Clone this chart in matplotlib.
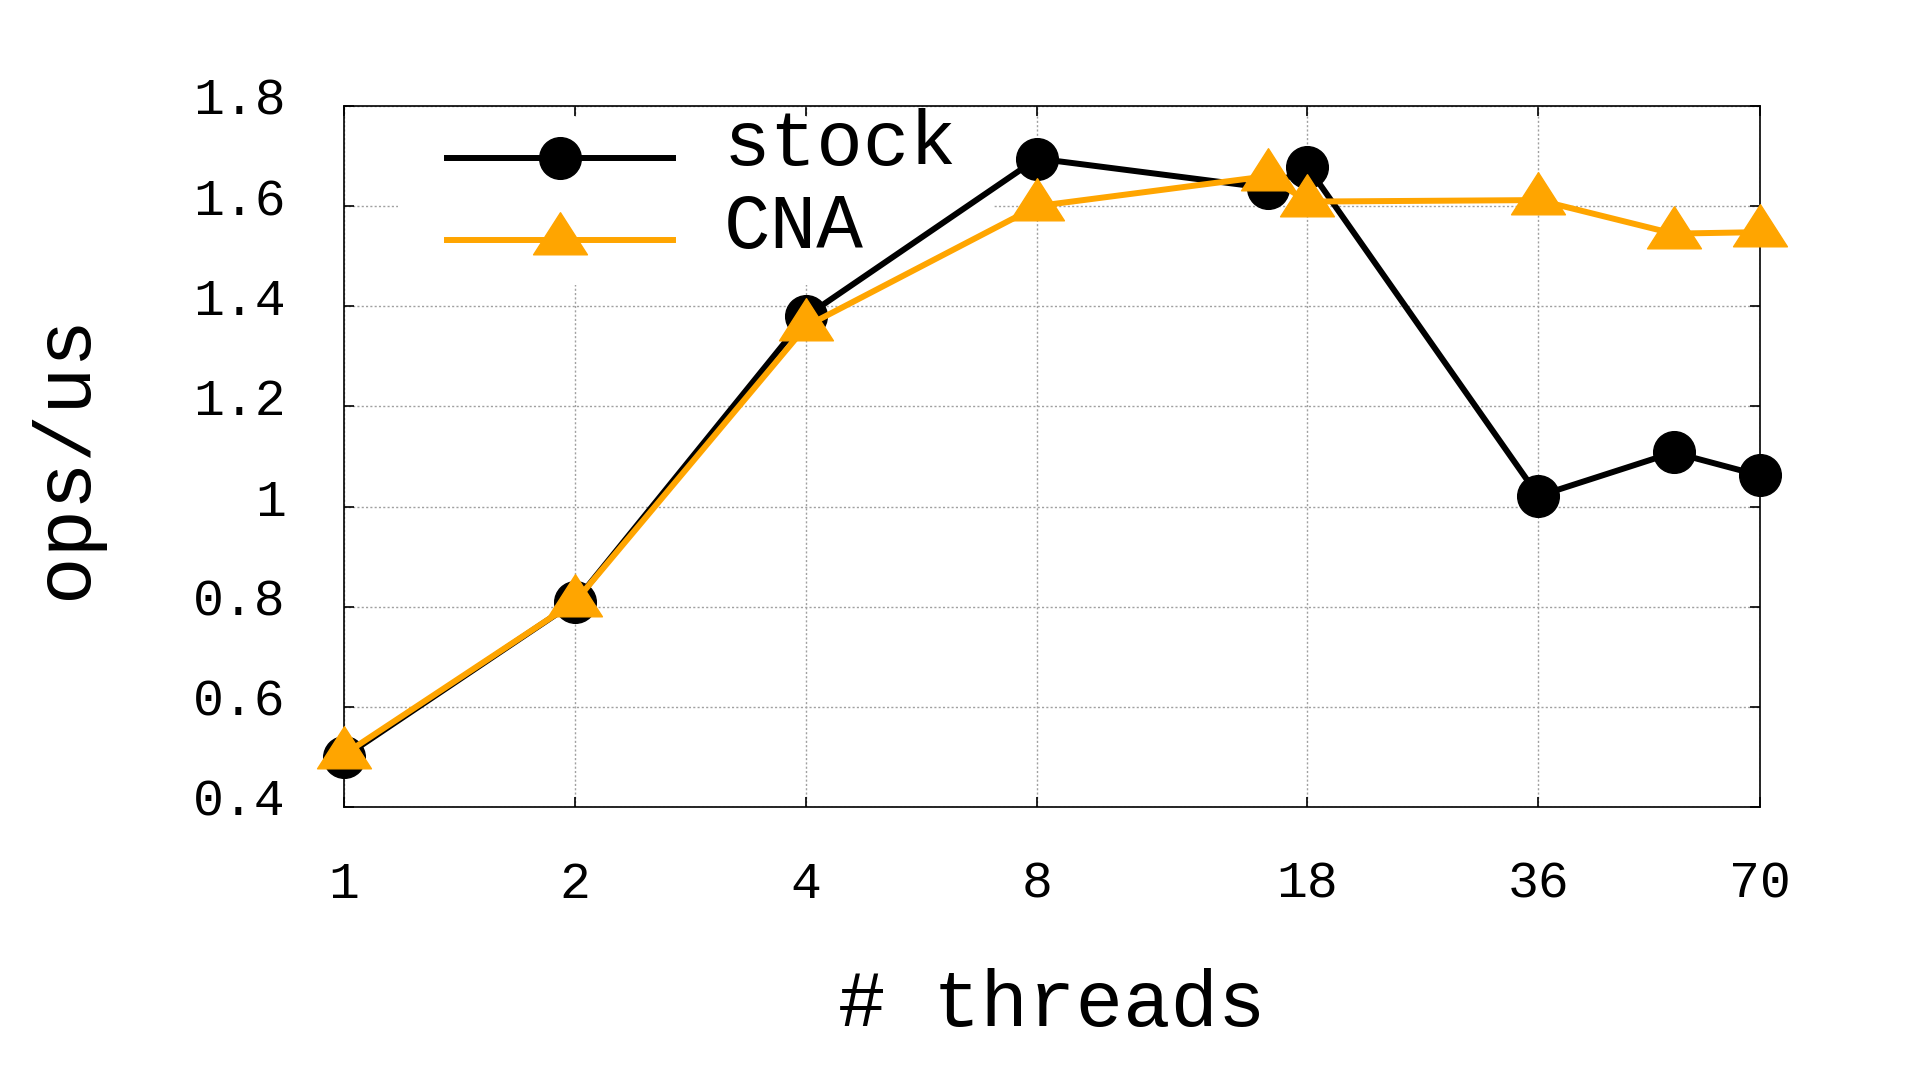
import matplotlib
matplotlib.use("Agg")
import matplotlib.pyplot as plt
from matplotlib.path import Path
from matplotlib.patches import Rectangle
from matplotlib.transforms import ScaledTranslation
from matplotlib.ticker import FixedLocator, FuncFormatter, NullLocator

# data
threads = [1, 2, 4, 8, 16, 18, 36, 54, 70]
stock = [0.50, 0.81, 1.38, 1.695, 1.636, 1.679, 1.021, 1.108, 1.062]
cna = [0.505, 0.81, 1.36, 1.60, 1.66, 1.609, 1.612, 1.545, 1.548]
xticks = [1, 2, 4, 8, 18, 36, 70]
yticks = [0.4, 0.6, 0.8, 1.0, 1.2, 1.4, 1.6, 1.8]

plt.rcParams['font.family'] = ['Liberation Mono', 'DejaVu Sans Mono']

# gnuplot-like triangle, centre sits low in the shape
tri = Path([(0, 0.66), (-0.64, -0.34), (0.64, -0.34), (0, 0.66)],
           [Path.MOVETO, Path.LINETO, Path.LINETO, Path.CLOSEPOLY])

fig = plt.figure(figsize=(19.2, 10.8), dpi=100)
ax = fig.add_axes([0.1792, 0.2528, 0.7375, 0.6491])

ax.plot(threads, stock, color='black', lw=4.3, marker='o', ms=30,
        label='stock', clip_on=False, zorder=3)
ax.plot(threads, cna, color='#FFA500', lw=4.3, marker=tri, ms=40,
        label='CNA', clip_on=False, zorder=4)

ax.set_xscale('log', base=2)
ax.set_xlim(1, 70)
ax.set_ylim(0.4, 1.8)
ax.xaxis.set_major_locator(FixedLocator(xticks))
ax.xaxis.set_major_formatter(FuncFormatter(lambda v, p: '%d' % round(v)))
ax.xaxis.set_minor_locator(NullLocator())
ax.yaxis.set_major_locator(FixedLocator(yticks))
ax.yaxis.set_major_formatter(FuncFormatter(lambda v, p: '%g' % v))

ax.tick_params(axis='both', direction='in', length=7, width=1.2,
               top=True, right=True, labelsize=37)
ax.tick_params(axis='x', pad=38)
ax.tick_params(axis='y', pad=42)
# gnuplot puts the y labels a little above their ticks
shift = ScaledTranslation(0, 0.10, fig.dpi_scale_trans)
for lab in ax.get_yticklabels():
    lab.set_transform(lab.get_transform() + shift)
for s in ax.spines.values():
    s.set_linewidth(1.2)

ax.set_axisbelow(True)
ax.grid(True, color='#a0a0a0', linestyle=(0, (1.5, 1.6)), linewidth=1.0)

ax.set_xlabel('# threads', fontsize=57, labelpad=43)
ax.set_ylabel('ops/us', fontsize=57, labelpad=65)

# white key box that hides the grid behind the legend (but not the lines)
ax.add_patch(Rectangle((0.038, 0.745), 0.420, 0.239, transform=ax.transAxes,
                       facecolor='white', edgecolor='none', zorder=1))

leg = ax.legend(loc='upper left', bbox_to_anchor=(0.04, 1.063), fontsize=56,
                handlelength=2.9, handletextpad=0.65, labelspacing=0.12,
                handleheight=-1.0, borderpad=0.1, frameon=False)

fig.savefig('out.png', dpi=100)
